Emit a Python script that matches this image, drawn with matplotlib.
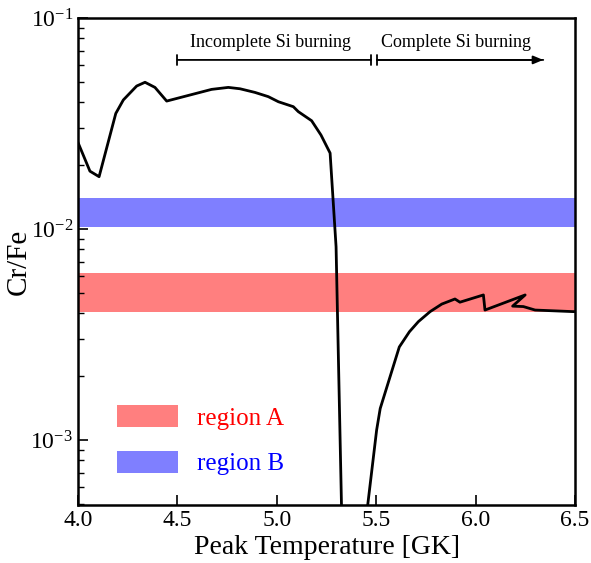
import numpy as np
import matplotlib
matplotlib.use("Agg")
import matplotlib.pyplot as plt

plt.rcParams['font.family'] = ['Liberation Serif', 'DejaVu Serif']
plt.rcParams['mathtext.fontset'] = 'stix'

# curve
temp = [4.00, 4.06, 4.106, 4.19, 4.228, 4.295, 4.337, 4.387, 4.446, 4.672, 4.756,
        4.815, 4.89, 4.957, 5.008, 5.083, 5.108, 5.175, 5.222, 5.268, 5.298, 5.33,
        5.43, 5.502, 5.52, 5.616, 5.667, 5.712, 5.771, 5.83, 5.896, 5.921, 6.039,
        6.047, 6.249, 6.186, 6.24, 6.299, 6.49, 6.5]
crfe = [0.0257, 0.0188, 0.0177, 0.0353, 0.0409, 0.0476, 0.0496, 0.0469, 0.0404, 0.0459, 0.0469,
        0.0462, 0.0444, 0.0424, 0.0401, 0.0380, 0.0360, 0.0326, 0.0279, 0.0229, 0.00824, 3.0e-4,
        3.0e-4, 1.115e-3, 1.41e-3, 2.76e-3, 3.26e-3, 3.64e-3, 4.06e-3, 4.41e-3, 4.66e-3, 4.50e-3, 4.87e-3,
        4.13e-3, 4.87e-3, 4.31e-3, 4.29e-3, 4.13e-3, 4.06e-3, 4.06e-3]

region_a = (4.04e-3, 6.19e-3)
region_b = (1.02e-2, 1.40e-2)

fig = plt.figure(figsize=(5.91, 5.63), dpi=100)
ax = fig.add_axes([0.132, 0.103, 0.841, 0.865])

ax.axhspan(region_a[0], region_a[1], color='red', alpha=0.5, lw=0, label='region A')
ax.axhspan(region_b[0], region_b[1], color='blue', alpha=0.5, lw=0, label='region B')
ax.plot(temp, crfe, color='black', lw=2)

ax.set_yscale('log')
ax.set_xlim(4.0, 6.5)
ax.set_ylim(4.92e-4, 0.1)
ax.set_xticks([4.0, 4.5, 5.0, 5.5, 6.0, 6.5])
ax.set_xticklabels(['4.0', '4.5', '5.0', '5.5', '6.0', '6.5'])
ax.tick_params(which='both', direction='in', top=False, right=False, labelsize=17)
ax.tick_params(which='major', length=7, width=1.2)
ax.tick_params(which='minor', length=4, width=1.0)
for s in ax.spines.values():
    s.set_linewidth(1.8)

ax.set_xlabel('Peak Temperature [GK]', fontsize=20, labelpad=3)
ax.set_ylabel('Cr/Fe', fontsize=21, labelpad=-1)

# burning regime arrows
ax.annotate('', xy=(5.474, 0.0633), xytext=(4.5, 0.0633),
            arrowprops=dict(arrowstyle='|-|, widthA=0.35, widthB=0.35', color='black', lw=1.3,
                            shrinkA=0, shrinkB=0))
ax.annotate('', xy=(6.34, 0.0633), xytext=(5.504, 0.0633),
            arrowprops=dict(arrowstyle='-|>, head_width=0.25, head_length=0.6', color='black', lw=1.3,
                            shrinkA=0, shrinkB=0))
ax.annotate('', xy=(6.34, 0.0633), xytext=(5.504, 0.0633),
            arrowprops=dict(arrowstyle='|-|, widthA=0.35, widthB=0', color='black', lw=1.3,
                            shrinkA=0, shrinkB=0))
ax.text(4.97, 0.0769, 'Incomplete Si burning', ha='center', va='center', fontsize=13)
ax.text(5.90, 0.0769, 'Complete Si burning', ha='center', va='center', fontsize=13)

leg = ax.legend(loc='lower left', bbox_to_anchor=(0.078, 0.061), frameon=False, fontsize=18,
                handlelength=2.44, handleheight=0.96, labelspacing=0.85, handletextpad=0.75,
                borderpad=0, borderaxespad=0)
for t, c in zip(leg.get_texts(), ['red', 'blue']):
    t.set_color(c)

fig.savefig('out.png', dpi=100)
